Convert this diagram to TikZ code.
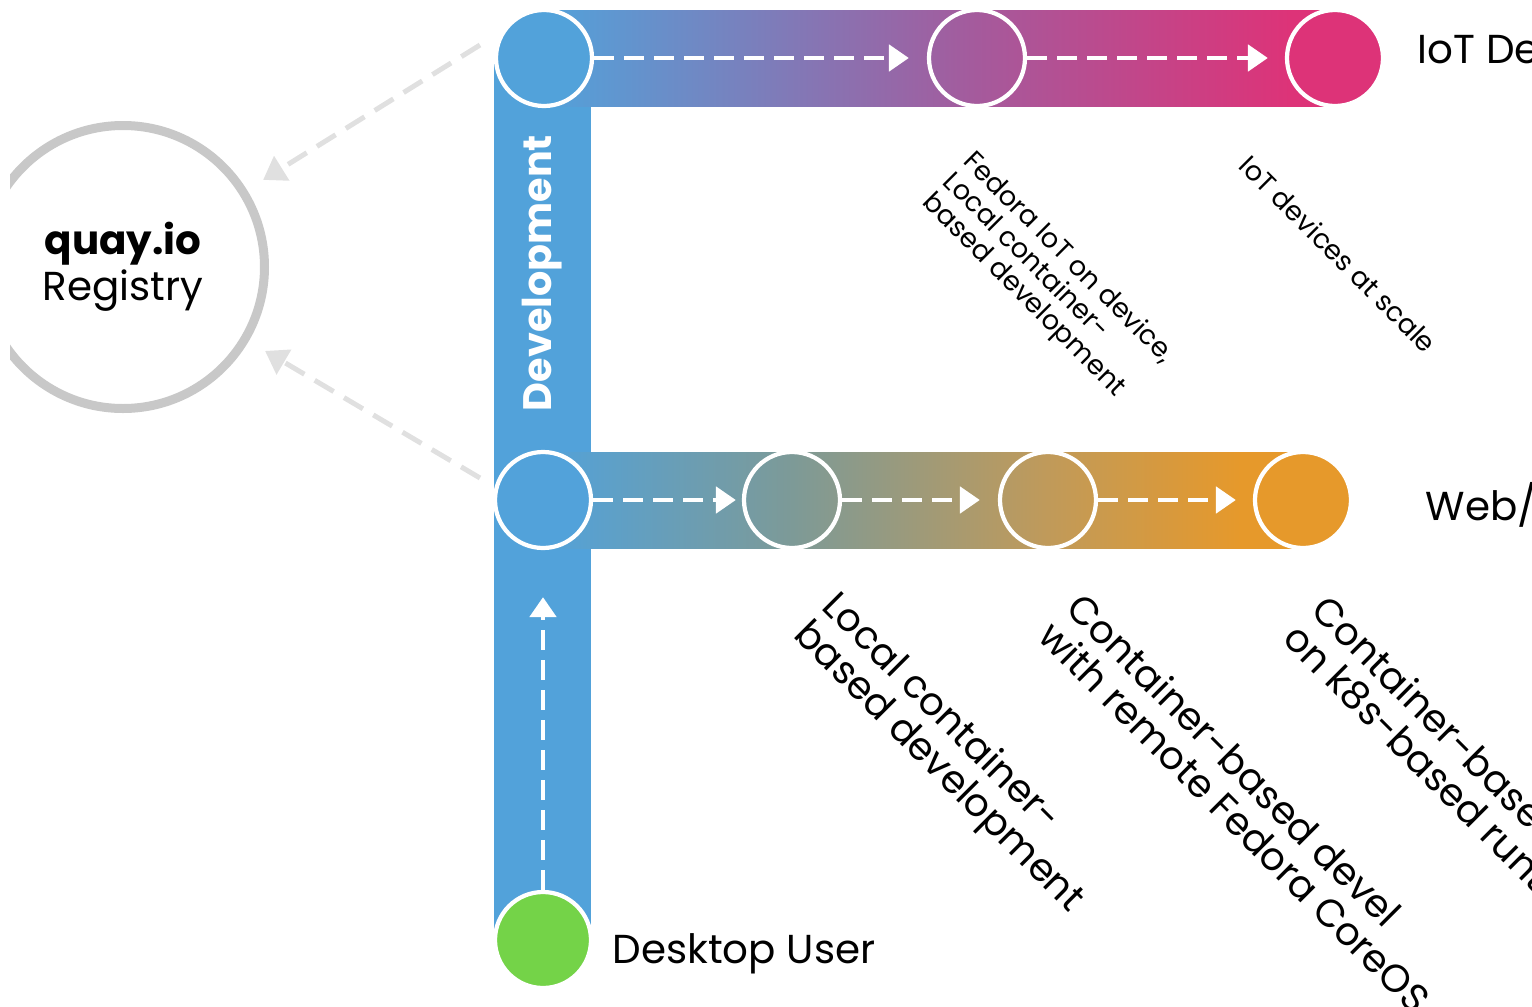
\documentclass[tikz,border=0pt]{standalone}
\usepackage{fontspec}
\setmainfont{Poppins}
\usepackage{tikz}
\usetikzlibrary{arrows.meta, calc}
\definecolor{devblue}{HTML}{52A2DA}
\definecolor{iotpurple}{HTML}{A55A9C}
\definecolor{iotpink}{HTML}{DD3378}
\definecolor{webteal}{HTML}{7D9A97}
\definecolor{webtan}{HTML}{C09A5A}
\definecolor{weborange}{HTML}{E6992B}
\definecolor{usergreen}{HTML}{74D348}
\definecolor{regring}{HTML}{C8C8C8}
\definecolor{pushgray}{HTML}{E0E0E0}
\pgfdeclarehorizontalshading{iotbar}{100bp}{color(0bp)=(devblue); color(25bp)=(devblue); color(52.4bp)=(iotpurple); color(72.2bp)=(iotpink); color(100bp)=(iotpink)}
\pgfdeclarehorizontalshading{webbar}{100bp}{color(0bp)=(devblue); color(25bp)=(devblue); color(41.4bp)=(webteal); color(58.2bp)=(webtan); color(70.9bp)=(weborange); color(100bp)=(weborange)}
\tikzset{
  stage/.style={circle, draw=white, line width=1.2pt, minimum size=0.96cm, inner sep=0pt},
  flow/.style={white, line width=1.4pt, dash pattern=on 0.2cm off 0.1cm, -{Triangle[length=0.2cm, width=0.26cm]}},
  push/.style={pushgray, line width=0.05cm, dash pattern=on 0.22cm off 0.12cm, -{Triangle[length=0.22cm, width=0.28cm]}},
  biglabel/.style={rotate=-45, anchor=base west, align=left, inner sep=0pt, font=\fontsize{11}{11.4}\selectfont},
  smalllabel/.style={rotate=-45, anchor=base west, align=left, inner sep=0pt, font=\fontsize{7.7}{8.2}\selectfont},
  tracklabel/.style={anchor=base west, inner sep=0pt, font=\fontsize{11.5}{13}\selectfont}
}
\begin{document}
\begin{tikzpicture}
\useasboundingbox (0,0) rectangle (15.32,-10.07);
\clip (0,0) rectangle (15.32,-10.07);
\fill[devblue] (4.94,-0.58) rectangle (5.91,-9.40);
\shade[shading=iotbar] (5.44,-0.10) rectangle (13.35,-1.06);
\shade[shading=webbar] (5.43,-4.52) rectangle (13.03,-5.48);
\node[stage, fill=devblue] (dev) at (5.44,-0.58) {};
\node[stage] (iotdev) at (9.77,-0.58) {};
\node[stage, fill=iotpink] (iotscale) at (13.35,-0.58) {};
\node[stage, fill=devblue] (webdev) at (5.43,-5.00) {};
\node[stage] (weblocal) at (7.92,-5.00) {};
\node[stage] (webremote) at (10.48,-5.00) {};
\node[stage, fill=weborange] (webk8s) at (13.03,-5.00) {};
\node[stage, fill=usergreen] (user) at (5.43,-9.40) {};
\node[font=\bfseries\fontsize{11.3}{13}\selectfont, text=white, rotate=90] (devlabel) at (5.42,-2.73) {Development};
\draw[flow, shorten >=0.18cm] (dev) -- (iotdev);
\draw[flow, shorten >=0.17cm] (iotdev) -- (iotscale);
\draw[flow, shorten >=0.06cm] (webdev) -- (weblocal);
\draw[flow, shorten >=0.18cm] (weblocal) -- (webremote);
\draw[flow, shorten >=0.17cm] (webremote) -- (webk8s);
\draw[flow, shorten >=0.47cm] (user) -- (webdev);
\begin{scope}
\clip (0.10,0) rectangle (3,-5);
\node[circle, draw=regring, line width=0.09cm, minimum size=2.83cm, align=center, font=\fontsize{11.5}{13}\selectfont] (quay) at (1.23,-2.67) {\raisebox{-0.8pt}{\textbf{quay.io}}\\\raisebox{-0.8pt}{Registry}};
\end{scope}
\coordinate (iotpush) at (4.80,-0.45);
\coordinate (webpush) at (4.80,-4.78);
\draw[push, shorten >=0.19cm] (iotpush) -- (quay);
\draw[push, shorten >=0.19cm] (webpush) -- (quay);
\node[tracklabel] (iotlabel) at (14.17,-0.63) {IoT Devices};
\node[tracklabel] (weblabel) at (14.25,-5.20) {Web/Apps};
\node[tracklabel] (userlabel) at (6.12,-9.63) {Desktop User};
\node[smalllabel] (iotdevtext) at (9.21,-2.03) {Fedora IoT on device,\\Local container-\\based development};
\node[smalllabel] (iotscaletext) at (12.37,-1.67) {IoT devices at scale};
\node[biglabel] (weblocaltext) at (7.92,-6.36) {Local container-\\based development};
\node[biglabel] (webremotetext) at (10.36,-6.38) {Container-based devel\\with remote Fedora CoreOS};
\node[biglabel] (webk8stext) at (12.81,-6.40) {Container-based apps\\on k8s-based runtime};
\end{tikzpicture}
\end{document}
